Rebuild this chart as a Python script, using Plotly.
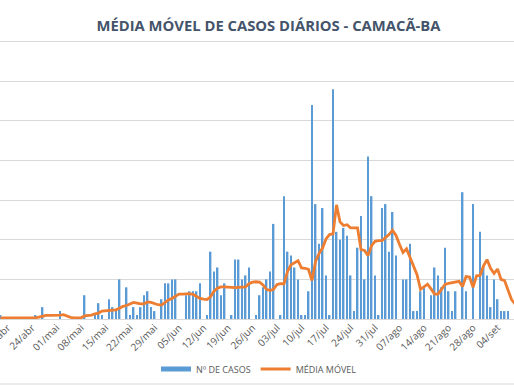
import pandas as pd
import plotly.graph_objects as go

# Daily dates (15/abr to 09/set 2020)
start_date = "2020-04-15"
n_days = 148
dates = pd.date_range(start_date, periods=n_days, freq="D")

casos = [1,0,0,0,0,0,0,0,0,0,
         1,0,3,0,0,0,0,2,0,0,
         0,0,0,0,6,0,0,1,4,1,
         0,5,3,2,10,0,8,1,3,1,
         3,6,7,3,2,0,5,9,9,10,
         10,0,0,6,7,7,7,9,0,1,
         17,12,13,6,9,0,1,15,15,10,
         11,13,0,1,6,8,10,12,24,0,
         1,31,17,16,13,10,1,1,7,54,
         29,19,28,11,1,58,22,20,23,21,
         11,2,18,26,10,41,31,11,1,28,
         29,17,27,16,0,10,10,19,2,2,
         7,8,0,6,13,11,8,18,7,2,
         7,0,32,7,0,29,0,22,13,11,
         3,10,5,2,2,2,0,0]

media_movel = [0.3,0.3,0.3,0.3,0.3,0.3,0.3,0.3,0.3,0.3,
               0.3,0.5,0.8,0.9,0.9,0.9,0.9,1.0,1.1,0.7,
               0.4,0.3,0.3,0.3,0.8,0.9,1.0,1.3,1.5,2.0,
               2.1,2.2,2.2,2.3,2.7,3.2,3.4,3.9,4.2,4.0,
               3.8,3.8,4.3,4.2,3.9,3.6,3.5,4.2,4.8,5.2,
               5.8,6.3,6.3,6.3,6.4,6.2,5.6,5.2,5.0,4.9,
               5.6,7.0,7.8,8.1,8.1,8.0,8.0,7.9,8.0,8.0,
               8.1,8.9,9.3,9.4,9.3,8.6,7.5,7.2,7.5,8.7,
               8.9,8.9,12.0,13.7,14.2,14.7,12.9,12.8,12.5,9.7,
               14.5,16.5,17.9,20.2,21.3,21.5,28.8,24.5,23.6,23.8,
               23.0,23.0,23.0,17.5,17.3,16.0,18.5,19.6,19.8,19.8,
               20.5,21.3,22.4,21.1,18.8,16.8,17.7,15.4,13.3,11.2,
               7.5,8.2,8.8,7.6,6.3,6.3,7.5,8.7,9.0,9.2,
               9.4,9.5,8.2,10.7,10.6,8.0,10.9,11.0,13.4,15.0,
               12.8,11.5,12.6,10.0,9.7,7.0,4.9,3.8]

tick_dates = ["2020-04-17","2020-04-24","2020-05-01","2020-05-08","2020-05-15",
              "2020-05-22","2020-05-29","2020-06-05","2020-06-12","2020-06-19",
              "2020-06-26","2020-07-03","2020-07-10","2020-07-17","2020-07-24",
              "2020-07-31","2020-08-07","2020-08-14","2020-08-21","2020-08-28",
              "2020-09-04"]
tick_labels = ["17/abr","24/abr","01/mai","08/mai","15/mai","22/mai","29/mai",
               "05/jun","12/jun","19/jun","26/jun","03/jul","10/jul","17/jul",
               "24/jul","31/jul","07/ago","14/ago","21/ago","28/ago","04/set"]

BLUE = "#5B9BD5"
ORANGE = "#ED7D31"
GRID = "#D9D9D9"
TXT = "#595959"

fig = go.Figure()
fig.add_trace(go.Bar(x=dates, y=casos, name="Nº DE CASOS", marker_color=BLUE,
                     marker_line_width=0, showlegend=False))
fig.add_trace(go.Scatter(x=dates, y=media_movel, name="MÉDIA MÓVEL", mode="lines",
                         line=dict(color=ORANGE, width=2.8), showlegend=False))
# legend entries (wide swatches as in the original)
fig.add_trace(go.Scatter(x=[None], y=[None], name="Nº DE CASOS", mode="lines",
                         line=dict(color=BLUE, width=5)))
fig.add_trace(go.Scatter(x=[None], y=[None], name="MÉDIA MÓVEL", mode="lines",
                         line=dict(color=ORANGE, width=2.8)))

fig.update_layout(
    width=514, height=386,
    margin=dict(l=0, r=0, t=2, b=67, autoexpand=False),
    paper_bgcolor="white", plot_bgcolor="white",
    bargap=0.5,
    font=dict(family="Open Sans, sans-serif", color=TXT, size=9),
    title=dict(text="<b>MÉDIA MÓVEL DE CASOS DIÁRIOS - CAMACÃ-BA</b>",
               x=268.5/514, xanchor="center", yref="container", y=1 - 26/386, yanchor="middle",
               font=dict(family="Open Sans, sans-serif", size=14.8, color="#44546A")),
    legend=dict(orientation="h", x=259/514, xanchor="center", yref="container",
                y=1 - 369/386, yanchor="middle",
                font=dict(size=9, color=TXT), itemwidth=30, bgcolor="rgba(0,0,0,0)"),
    xaxis=dict(range=["2020-04-14 20:40", "2020-09-08 16:50"], tickvals=tick_dates,
               ticktext=tick_labels, tickangle=-45, showgrid=False, zeroline=False,
               ticks="", showline=False, tickfont=dict(size=10, color=TXT),
               ticklabeloverflow="allow", automargin=False, ticklabelstandoff=0),
    yaxis=dict(range=[0, 80], dtick=10, showgrid=True, gridcolor=GRID, gridwidth=1,
               zeroline=True, zerolinecolor=GRID, zerolinewidth=1,
               showticklabels=False, ticks="", showline=False, automargin=False),
    shapes=[dict(type="line", xref="paper", yref="paper", x0=0, x1=1,
                 y0=-0.205, y1=-0.205, line=dict(color=GRID, width=1))],
)

fig.write_html("out.html", config={"displayModeBar": False},
               post_script="document.body.style.margin='0';")
